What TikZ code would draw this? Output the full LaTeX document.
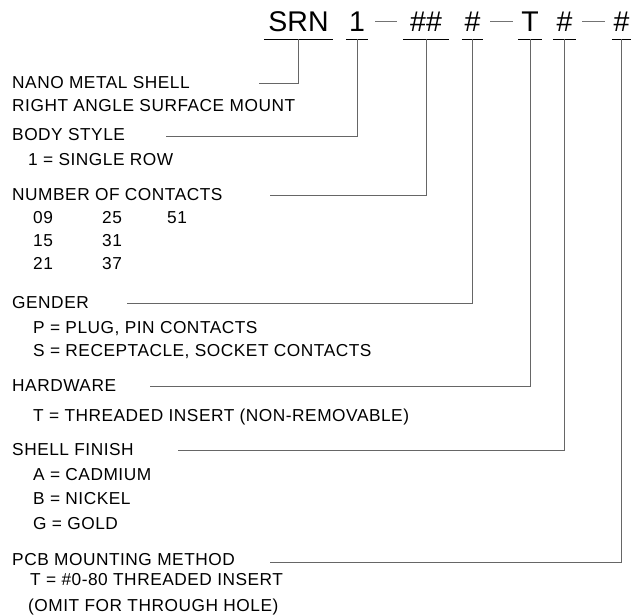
\documentclass[tikz,border=0pt]{standalone}
\usepackage{fontspec}
\setmainfont{Liberation Sans}
\newfontfamily\partfont[LetterSpace=3]{Liberation Sans}
\usetikzlibrary{positioning}

\begin{document}
\begin{tikzpicture}[
    x=1pt, y=-1pt,
    field/.style={
        inner sep=0pt,
        anchor=base,
        text depth=7pt,
        font=\fontsize{28.5}{31}\selectfont
    },
    uline/.style={
        draw=black,
        line width=1pt
    },
    sep/.style={
        draw=black!55,
        line width=1pt
    },
    leader/.style={
        draw=black!60,
        line width=1pt
    },
    label/.style={
        inner sep=0pt,
        anchor=base west,
        font=\partfont\fontsize{17.3}{20}\selectfont
    }
]
\useasboundingbox (0,0) rectangle (631,615);

% Numero de parte
\node[field, minimum width=69pt] (srn) at (298.5,32) {SRN};
\node[field, minimum width=22pt] (one) at (357,32) {1};
\node[field, minimum width=46pt] (cnt) at (426,32) {\#\#};
\node[field, minimum width=21pt] (gen) at (472.5,32) {\#};
\node[field, minimum width=24pt] (hw) at (530,32) {T};
\node[field, minimum width=23pt] (fin) at (564.5,32) {\#};
\node[field, minimum width=19pt] (pcb) at (621.5,32) {\#};

% Subrayados
\foreach \f in {srn,one,cnt,gen,hw,fin,pcb}
    \draw[uline] (\f.south west) -- (\f.south east);

% Guiones
\draw[sep, shorten <=7pt, shorten >=6pt] (one.east |- 0,22) -- (cnt.west |- 0,22);
\draw[sep, shorten <=7pt, shorten >=5pt] (gen.east |- 0,22) -- (hw.west |- 0,22);
\draw[sep, shorten <=6pt, shorten >=7pt] (fin.east |- 0,22) -- (pcb.west |- 0,22);

% Serie
\node[label] (nano) at (12,89) {NANO METAL SHELL};
\node[label] (mount) at (12,111) {RIGHT ANGLE SURFACE MOUNT};

% Estilo de cuerpo
\node[label] (body) at (12,140) {BODY STYLE};
\node[label] (row) at (28,165) {1 = SINGLE ROW};

% Numero de contactos
\node[label] (ncont) at (12,200) {NUMBER OF CONTACTS};
\node[label] (c09) at (33,223) {09};
\node[label] (c25) at (102,223) {25};
\node[label] (c51) at (167,223) {51};
\node[label] (c15) at (33,246) {15};
\node[label] (c31) at (102,246) {31};
\node[label] (c21) at (33,269) {21};
\node[label] (c37) at (102,269) {37};

% Genero
\node[label] (gender) at (12,308) {GENDER};
\node[label] (plug) at (33,333) {P = PLUG, PIN CONTACTS};
\node[label] (sock) at (33,356) {S = RECEPTACLE, SOCKET CONTACTS};

% Herrajes
\node[label] (hard) at (12,391) {HARDWARE};
\node[label] (thr) at (33,421) {T = THREADED INSERT (NON-REMOVABLE)};

% Acabado
\node[label] (shell) at (12,455) {SHELL FINISH};
\node[label] (cad) at (33,480) {A = CADMIUM};
\node[label] (nik) at (33,504) {B = NICKEL};
\node[label] (gold) at (33,529) {G = GOLD};

% Montaje
\node[label] (mnt) at (12,565) {PCB MOUNTING METHOD};
\node[label] (tins) at (30,585) {T = \#0-80 THREADED INSERT};
\node[label] (omit) at (28,611) {(OMIT FOR THROUGH HOLE)};

% Lineas guia
\coordinate (srnL) at (259,84);
\coordinate (bodyL) at (166,136);
\coordinate (cntL) at (270,195);
\coordinate (genL) at (127,303);
\coordinate (hwL) at (150,386);
\coordinate (finL) at (178,450);
\coordinate (pcbL) at (270,562);

\draw[leader] (srnL) -| (srn.south);
\draw[leader] (bodyL) -| (one.south);
\draw[leader] (cntL) -| (cnt.south);
\draw[leader] (genL) -| (gen.south);
\draw[leader] (hwL) -| (hw.south);
\draw[leader] (finL) -| (fin.south);
\draw[leader] (pcbL) -| (pcb.south);

\end{tikzpicture}
\end{document}
